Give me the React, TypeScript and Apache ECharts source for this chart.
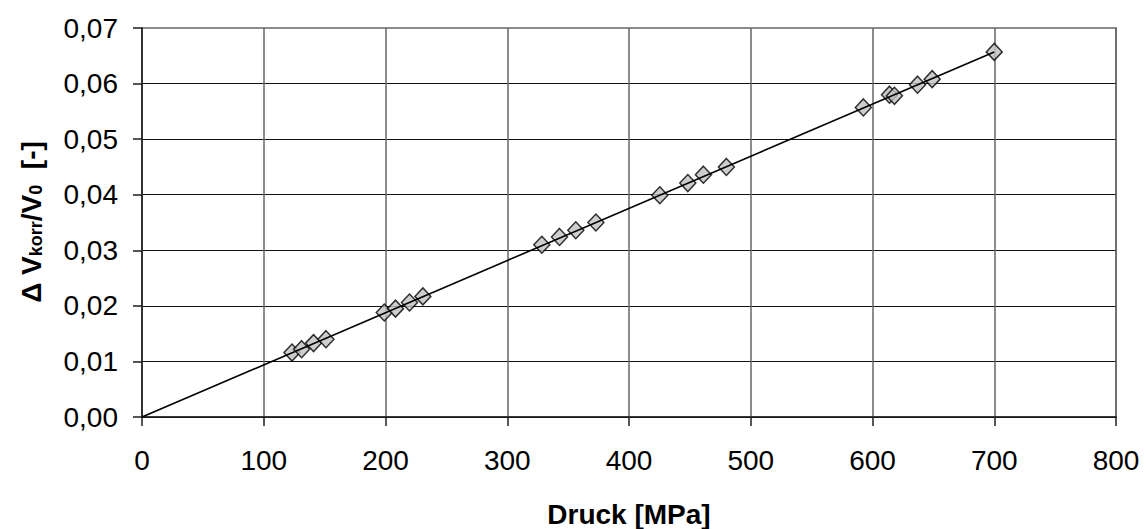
import React, { useEffect, useRef } from "react";
import * as echarts from "echarts";

// Measured pressure [MPa] and corrected relative volume change [-]
const druck = [
  123.2, 131.1, 140.9, 151.1, 199.0, 208.2, 219.7, 230.7, 328.4, 342.9, 356.3,
  372.8, 425.3, 448.3, 461.1, 480.0, 592.5, 614.0, 618.0, 637.0, 649.0, 700.0,
];
const deltaV = [
  0.0116, 0.0122, 0.0133, 0.014, 0.0188, 0.0195, 0.0206, 0.0217, 0.031, 0.0324,
  0.0336, 0.035, 0.0399, 0.0421, 0.0436, 0.045, 0.0557, 0.058, 0.0578, 0.0598,
  0.0608, 0.0657,
];

// Linear trend line through the origin
const trendDruck = [0, 700];
const trendDeltaV = [0, 0.0657];

const xTicks = { min: 0, max: 800, interval: 100 };
const yTicks = { min: 0, max: 0.07, interval: 0.01 };

const FONT = "'Liberation Sans', Arial, sans-serif";

export default function App() {
  const ref = useRef<HTMLDivElement>(null);

  useEffect(() => {
    if (!ref.current) return;
    const chart = echarts.init(ref.current, null, { renderer: "svg" });

    // the top gridline sits on the plot frame, so it takes the frame's grey
    const hGridColors = Array.from({ length: 8 }, (_, i) =>
      i === 7 ? "#8c8c8c" : "#111111"
    );

    chart.setOption({
      animation: false,
      backgroundColor: "#ffffff",
      textStyle: { fontFamily: FONT },
      grid: {
        left: 142,
        top: 28,
        right: 30,
        bottom: 112,
        show: true,
        borderColor: "#8c8c8c",
        borderWidth: 2,
        backgroundColor: "transparent",
      },
      xAxis: {
        type: "value",
        min: xTicks.min,
        max: xTicks.max,
        interval: xTicks.interval,
        axisLine: { show: true, onZero: false, lineStyle: { color: "#1e1e1e", width: 1.5 } },
        axisTick: { show: true, length: 9, lineStyle: { color: "#1e1e1e", width: 1.5 } },
        axisLabel: {
          fontSize: 28,
          color: "#000",
          fontFamily: FONT,
          margin: 29,
        },
        splitLine: { show: true, lineStyle: { color: "#666666", width: 1.5 } },
      },
      yAxis: {
        type: "value",
        min: yTicks.min,
        max: yTicks.max,
        interval: yTicks.interval,
        axisLine: { show: true, onZero: false, lineStyle: { color: "#1e1e1e", width: 1.5 } },
        axisTick: { show: true, length: 9, lineStyle: { color: "#1e1e1e", width: 1.5 } },
        axisLabel: {
          fontSize: 28,
          color: "#000",
          fontFamily: FONT,
          margin: 24,
          formatter: (v: number) => v.toFixed(2).replace(".", ","),
        },
        splitLine: { show: true, lineStyle: { color: hGridColors, width: 1 } },
      },
      series: [
        {
          type: "scatter",
          data: druck.map((x, i) => [x, deltaV[i]]),
          symbol: "diamond",
          symbolSize: [16, 17],
          itemStyle: { color: "#c0c0c0", borderColor: "#000", borderWidth: 1.5 },
          z: 2,
        },
        {
          type: "line",
          data: trendDruck.map((x, i) => [x, trendDeltaV[i]]),
          showSymbol: false,
          symbol: "none",
          lineStyle: { color: "#000", width: 1.6 },
          z: 3,
        },
      ],
      graphic: [
        {
          type: "text",
          x: 629,
          y: 514,
          style: {
            text: "Druck [MPa]",
            font: `bold 28px ${FONT}`,
            fill: "#000",
            align: "center",
            verticalAlign: "middle",
          },
        },
        {
          type: "text",
          x: 30,
          y: 222,
          rotation: Math.PI / 2,
          style: {
            text: "{b|Δ V}{s|korr}{b|/V}{s|0}{b|  [-]}",
            align: "center",
            verticalAlign: "middle",
            fill: "#000",
            rich: {
              b: {
                fontFamily: FONT,
                fontWeight: "bold",
                fontSize: 28,
                lineHeight: 30,
                verticalAlign: "bottom",
                fill: "#000",
              },
              s: {
                fontFamily: FONT,
                fontWeight: "bold",
                fontSize: 18,
                lineHeight: 30,
                verticalAlign: "bottom",
                fill: "#000",
              },
            },
          },
        },
      ],
    });

    return () => chart.dispose();
  }, []);

  return (
    <div
      ref={ref}
      style={{ position: "fixed", left: 0, top: 0, width: 1146, height: 529 }}
    />
  );
}
